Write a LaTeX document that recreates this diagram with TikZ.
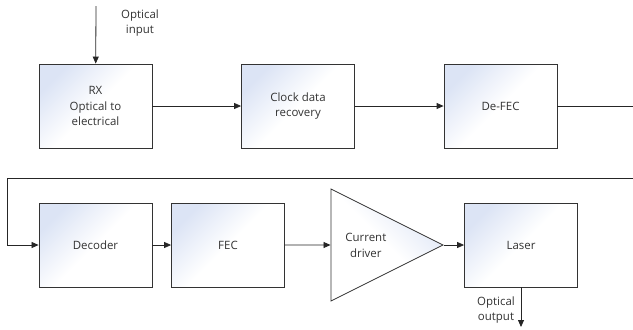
\documentclass[tikz,border=0pt]{standalone}
\usepackage{fontspec}
\setmainfont{Open Sans}
\usetikzlibrary{positioning,shapes.geometric,arrows.meta}

\definecolor{boxtint}{RGB}{220,228,245}
\definecolor{inktext}{RGB}{50,50,50}

\tikzset{
	block/.style={draw=black!80, line width=0.8bp, minimum width=113bp, minimum height=84bp,
		inner sep=2bp, align=center, text=inktext, font=\fontsize{11.5}{16}\selectfont,
		top color=boxtint, bottom color=white, middle color=white, shading angle=45},
	amp/.style={block, isosceles triangle, isosceles triangle stretches,
		minimum width=112bp, minimum height=112bp, inner sep=0bp, shading angle=-45},
	flow/.style={draw=black!85, line width=0.8bp, -{Triangle[length=7bp,width=6bp]}},
	wire/.style={draw=black!85, line width=0.8bp},
	note/.style={align=center, text=inktext, font=\fontsize{11.5}{16}\selectfont}
}

\begin{document}
\begin{tikzpicture}[x=1bp, y=-1bp]
	\useasboundingbox (0,0) rectangle (633,329);

	% top row
	\node[block] (rx) at (95.5,106) {RX\\Optical to\\electrical};
	\node[block] (cdr) at (298,106) {Clock data\\recovery};
	\node[block] (defec) at (500.5,106) {De-FEC};

	% bottom row
	\node[block] (dec) at (95.5,245) {Decoder};
	\node[block] (fec) at (228,245) {FEC};
	\node[amp, anchor=apex] (drv) at (444,245) {Current\\driver};
	\node[block] (laser) at (521,245) {Laser};

	% free ends
	\coordinate (inTop) at (96,6);
	\coordinate (rEdge1) at (633,106);
	\coordinate (rEdge2) at (633,178);
	\coordinate (lTurn) at (7,178);
	\coordinate (outEnd) at (521,327);

	\node[note] (inLbl) at (140,23) {Optical\\input};
	\node[note] (outLbl) at (496,310) {Optical\\output};

	\draw[flow] (inTop) -- (rx);
	\draw[flow] (rx) -- (cdr);
	\draw[flow] (cdr) -- (defec);
	\draw[wire] (defec) -- (rEdge1);
	\draw[flow] (rEdge2) -- (lTurn) |- (dec);
	\draw[flow] (dec) -- (fec);
	\draw[flow] (fec) -- (drv);
	\draw[flow] (drv.apex) -- (laser);
	\draw[flow] (laser) -- (outEnd);
\end{tikzpicture}
\end{document}
